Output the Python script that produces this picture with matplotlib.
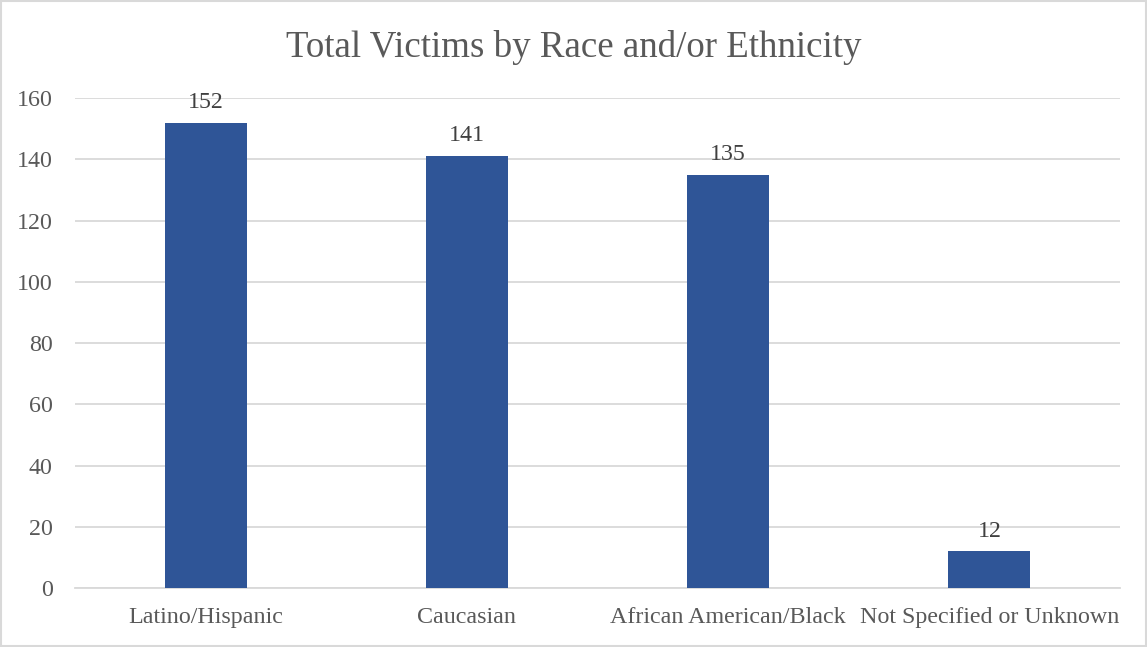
import matplotlib.pyplot as plt
import numpy as np

plt.rcParams['font.family'] = ['Liberation Serif', 'DejaVu Serif']

# Data
categories = ['Latino/Hispanic', 'Caucasian', 'African American/Black', 'Not Specified or Unknown']
victims = [152, 141, 135, 12]
yticks = [0, 20, 40, 60, 80, 100, 120, 140, 160]

bar_color = '#2F5597'
text_color = '#595959'
grid_color = '#D9D9D9'

fig = plt.figure(figsize=(11.47, 6.47), dpi=100)
ax = fig.add_axes([0.0654, 0.0912, 0.9111, 0.7573])

x = np.arange(len(categories))
bars = ax.bar(x, victims, width=0.314, color=bar_color, zorder=3)

# value labels above each bar
for xi, v in zip(x, victims):
    ax.annotate(str(v), (xi, v), xytext=(0, 7), textcoords='offset points',
                ha='center', va='bottom', fontsize=17.2, color='#404040')

ax.set_xlim(-0.5, len(categories) - 0.5)
ax.set_ylim(0, 160)
ax.set_yticks(yticks)
ax.set_xticks(x)
ax.set_xticklabels(categories)
ax.tick_params(axis='both', length=0, labelsize=17.3, labelcolor=text_color)
ax.tick_params(axis='x', pad=13.5)
ax.tick_params(axis='y', pad=16)
ax.yaxis.grid(True, color=grid_color, linewidth=1.3, zorder=0)

for side in ['top', 'right', 'left']:
    ax.spines[side].set_visible(False)
ax.spines['bottom'].set_color(grid_color)
ax.spines['bottom'].set_linewidth(1.3)

fig.text(0.5, 0.927, 'Total Victims by Race and/or Ethnicity', fontsize=26.6,
         color=text_color, ha='center', va='center')

# light border around the whole chart
fig.patches.append(plt.Rectangle((0.001, 0.001), 0.998, 0.997, transform=fig.transFigure,
                                 fill=False, edgecolor='#D9D9D9', linewidth=1.5))

fig.savefig('out.png', dpi=100)
